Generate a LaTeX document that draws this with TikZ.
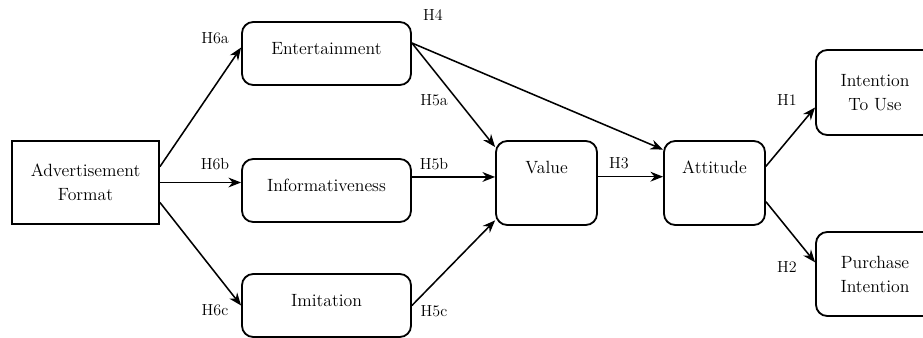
\documentclass[tikz,border=0pt]{standalone}
\usepackage{tikz}
\usetikzlibrary{arrows.meta}

\begin{document}
\begin{tikzpicture}[>={Stealth[length=9pt,width=7pt]}, every node/.style={font=\fontsize{12.6}{17}\selectfont},
    factor/.style={draw, rounded corners=8pt, line width=1.3pt, align=center},
    oneline/.style={text height=0.35cm, text depth=0.3cm},
    hyp/.style={font=\fontsize{11.4}{14}\selectfont}]

    \useasboundingbox (0,0) rectangle (23.075,-8.425);

    % left: the format and the three ad qualities
    \node[draw, line width=1.3pt, minimum width=3.675cm, minimum height=2.075cm, align=center] (format) at (2.1375,-4.5625) {Advertisement\\Format};

    \node[factor, oneline, minimum width=4.225cm, minimum height=1.575cm] (ent) at (8.1625,-1.3375) {Entertainment};
    \node[factor, oneline, minimum width=4.225cm, minimum height=1.575cm] (info) at (8.1625,-4.7625) {Informativeness};
    \node[factor, oneline, minimum width=4.225cm, minimum height=1.575cm] (imit) at (8.1625,-7.6375) {Imitation};

    % middle
    \node[factor, oneline, minimum width=2.525cm, minimum height=2.1cm, text depth=0.83cm] (value) at (13.6625,-4.575) {Value};
    \node[factor, oneline, minimum width=2.525cm, minimum height=2.1cm, text depth=0.83cm] (att) at (17.8625,-4.575) {Attitude};

    % right, cut off by the page edge
    \node[factor, minimum width=2.95cm, minimum height=2.125cm] (use) at (21.875,-2.3125) {Intention\\To Use};
    \node[factor, minimum width=2.95cm, minimum height=2.1cm] (buy) at (21.875,-6.85) {Purchase\\Intention};

    \draw[->, line width=1.1pt] (format.12) -- (ent.176);
    \draw[->, line width=1.1pt] (format.east) -- (format.east -| info.west);
    \draw[->, line width=1.1pt] (format.-15) -- (imit.west);

    \draw[->, line width=1.1pt] (ent.7) -- (value.145);
    \draw[->, line width=1.1pt] (ent.7) -- (att.147);
    \draw[->, line width=1.1pt] (info.9) -- (info.9 -| value.west);
    \draw[->, line width=1.1pt] (imit.east) -- (value.216);

    \draw[->, line width=1.1pt] (value.7) -- (value.7 -| att.west);
    \draw[->, line width=1.1pt] (att.18) -- (use.194);
    \draw[->, line width=1.1pt] (att.-20) -- (buy.169);

    % hypothesis labels
    \node[hyp] (h6a) at (5.375,-0.95) {H6a};
    \node[hyp] (h6b) at (5.375,-4.1) {H6b};
    \node[hyp] (h6c) at (5.375,-7.75) {H6c};
    \node[hyp] (h4) at (10.825,-0.375) {H4};
    \node[hyp] (h5a) at (10.85,-2.5) {H5a};
    \node[hyp] (h5b) at (10.85,-4.1) {H5b};
    \node[hyp] (h5c) at (10.85,-7.775) {H5c};
    \node[hyp] (h3) at (15.475,-4.075) {H3};
    \node[hyp] (h1) at (19.675,-2.5) {H1};
    \node[hyp] (h2) at (19.675,-6.675) {H2};

\end{tikzpicture}
\end{document}
